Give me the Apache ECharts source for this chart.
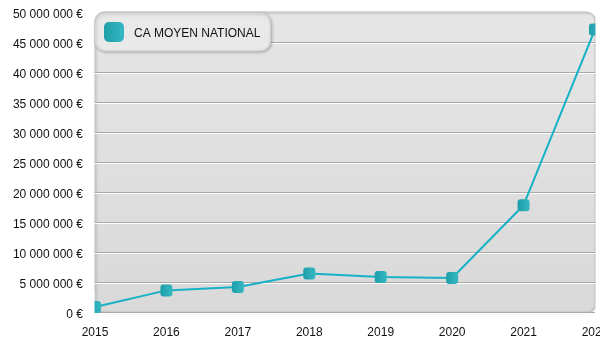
<!DOCTYPE html>
<html>
<head>
<meta charset="utf-8">
<script src="https://cdn.jsdelivr.net/npm/echarts@6/dist/echarts.min.js"></script>
<style>
  html, body { margin: 0; padding: 0; background: #fff; }
  #chart { width: 600px; height: 350px; }
</style>
</head>
<body>
<div id="chart"></div>
<script>
// Average national turnover per year
const years = ['2015', '2016', '2017', '2018', '2019', '2020', '2021', '2022'];
const caMoyen = [830000, 3600000, 4170000, 6400000, 5830000, 5670000, 17800000, 47100000];
const seriesName = 'CA MOYEN NATIONAL';

const FONT = '"Liberation Sans", Arial, Helvetica, sans-serif';

function euro(v) {
  return String(Math.round(v)).replace(/\B(?=(\d{3})+(?!\d))/g, ' ') + ' €';
}

const markerFill = new echarts.graphic.LinearGradient(0, 0, 1, 0, [
  { offset: 0, color: '#1d9ea9' },
  { offset: 1, color: '#36b8c2' }
]);

const chart = echarts.init(document.getElementById('chart'), null, { renderer: 'canvas' });

chart.setOption({
  animation: false,
  backgroundColor: '#ffffff',
  textStyle: { fontFamily: FONT },
  grid: { left: 95, right: 5, top: 12, bottom: 38, containLabel: false, outerBoundsMode: 'none' },
  graphic: [
    {
      // rounded plot backdrop
      type: 'rect',
      z: -1,
      shape: { x: 95, y: 12, width: 500, height: 300, r: 9 },
      style: {
        fill: new echarts.graphic.LinearGradient(0, 0, 0, 1, [
          { offset: 0, color: '#e6e6e6' },
          { offset: 1, color: '#d9d9d9' }
        ]),
        stroke: '#c4c4c4',
        lineWidth: 1,
        shadowColor: 'rgba(0,0,0,0.25)',
        shadowBlur: 2,
        shadowOffsetX: 1,
        shadowOffsetY: 1
      }
    },
    {
      // trims the marker hanging past the left edge
      type: 'rect',
      z: 100,
      shape: { x: 84, y: 290, width: 10.5, height: 28 },
      style: { fill: '#ffffff' }
    },
    {
      // trims the marker hanging past the right edge
      type: 'rect',
      z: 100,
      shape: { x: 595.5, y: 14, width: 10, height: 304 },
      style: { fill: '#ffffff' }
    }
  ],
  legend: {
    left: 95,
    top: 13,
    padding: [9, 10, 9, 9],
    backgroundColor: '#e9e9e9',
    borderColor: '#d0d0d0',
    borderWidth: 1,
    borderRadius: 10,
    shadowColor: 'rgba(0,0,0,0.25)',
    shadowBlur: 3,
    shadowOffsetX: 1,
    shadowOffsetY: 1,
    itemWidth: 20,
    itemHeight: 20,
    icon: 'roundRect',
    formatter: '{t|{name}}',
    textStyle: {
      fontFamily: FONT, fontSize: 12, color: '#111111',
      rich: { t: { fontFamily: FONT, fontSize: 12, color: '#111111', padding: [4, 0, 0, 5] } }
    },
    data: [{ name: seriesName, itemStyle: { color: markerFill } }]
  },
  xAxis: {
    type: 'category',
    data: years,
    boundaryGap: false,
    axisLine: { show: false },
    axisTick: { show: false },
    axisLabel: { fontFamily: FONT, fontSize: 12, color: '#111111', margin: 15 },
    splitLine: { show: false }
  },
  yAxis: {
    type: 'value',
    min: 0,
    max: 50000000,
    interval: 5000000,
    axisLine: { show: false },
    axisTick: { show: false },
    axisLabel: {
      fontFamily: FONT, fontSize: 12, color: '#111111', margin: 12,
      verticalAlign: 'top', lineHeight: 6, formatter: euro
    },
    splitLine: {
      show: true,
      showMaxLine: false,
      lineStyle: {
        color: '#a9a9a9',
        width: 1,
        shadowColor: '#ffffff',
        shadowOffsetY: 1,
        shadowBlur: 0
      }
    }
  },
  series: [
    {
      name: seriesName,
      type: 'line',
      data: caMoyen,
      clip: false,
      symbol: 'roundRect',
      symbolSize: 12,
      showAllSymbol: true,
      lineStyle: { color: '#17b1c5', width: 2 },
      itemStyle: { color: markerFill, borderWidth: 0 },
      emphasis: { disabled: true }
    }
  ]
});
</script>
</body>
</html>
